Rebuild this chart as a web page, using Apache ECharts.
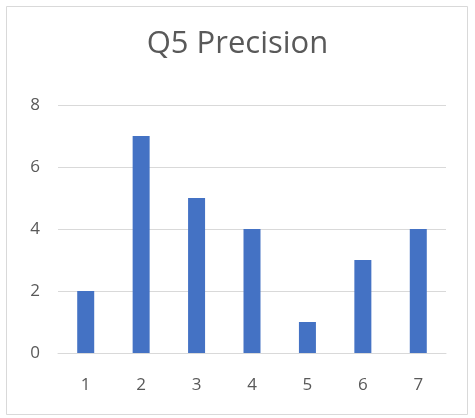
<!DOCTYPE html>
<html>
	<head>
		<meta charset="UTF-8">
		<title>Q5 Precision</title>
		<script src="https://cdn.jsdelivr.net/npm/echarts@6/dist/echarts.min.js"></script>
		<style>
			html, body { margin: 0; padding: 0; background: #fff; }
			#chart { width: 475px; height: 418px; }
		</style>
	</head>
	<body>
		<div id="chart"></div>
		<script type="text/javascript">
			// 数据
			var categories = ['1', '2', '3', '4', '5', '6', '7'];
			var values = [2, 7, 5, 4, 1, 3, 4];
			var yTicks = [0, 2, 4, 6, 8];

			var myChart = echarts.init(document.getElementById('chart'));

			var option = {
				backgroundColor: '#fff',
				// 外框
				graphic: [{
					type: 'rect',
					shape: { x: 6.5, y: 6.5, width: 461, height: 408 },
					style: { fill: 'none', stroke: '#d9d9d9', lineWidth: 1 },
					silent: true
				}],
				// 标题
				title: {
					text: 'Q5 Precision',
					left: 'center',
					top: 24,
					textStyle: {
						fontFamily: 'Open Sans',
						fontWeight: 'normal',
						fontSize: 31,
						color: '#595959'
					}
				},
				grid: {
					left: 58,
					right: 29,
					top: 105,
					bottom: 65
				},
				xAxis: {
					type: 'category',
					data: categories,
					axisLine: { lineStyle: { color: '#d9d9d9', width: 1 } },
					axisTick: { show: false },
					axisLabel: {
						margin: 24,
						fontFamily: 'Open Sans',
						fontSize: 17,
						color: '#595959'
					}
				},
				yAxis: {
					type: 'value',
					min: yTicks[0],
					max: yTicks[yTicks.length - 1],
					interval: 2,
					axisLine: { show: false },
					axisTick: { show: false },
					splitLine: { lineStyle: { color: '#d9d9d9', width: 1 } },
					axisLabel: {
						margin: 18,
						fontFamily: 'Open Sans',
						fontSize: 17,
						color: '#595959'
					}
				},
				series: [{
					type: 'bar',
					data: values,
					barWidth: 17,
					itemStyle: { color: '#4472c4' }
				}]
			};

			myChart.setOption(option);
		</script>
	</body>
</html>
